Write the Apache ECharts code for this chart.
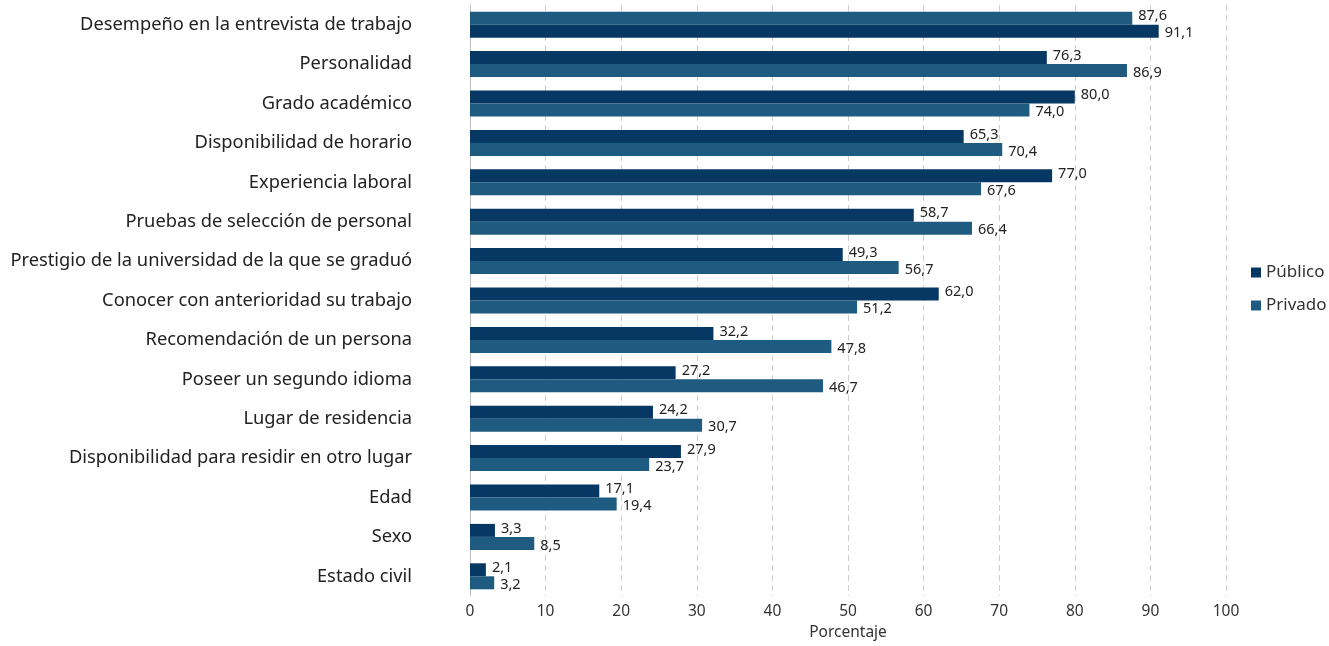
<!DOCTYPE html>
<html><head><meta charset="utf-8">
<script src="https://cdn.jsdelivr.net/npm/echarts@6/dist/echarts.min.js"></script>
<style>html,body{margin:0;padding:0;background:#fff}#c{width:1329px;height:646px}</style>
</head><body><div id="c"></div>
<script>
const categories = [
  "Desempeño en la entrevista de trabajo",
  "Personalidad",
  "Grado académico",
  "Disponibilidad de horario",
  "Experiencia laboral",
  "Pruebas de selección de personal",
  "Prestigio de la universidad de la que se graduó",
  "Conocer con anterioridad su trabajo",
  "Recomendación de un persona",
  "Poseer un segundo idioma",
  "Lugar de residencia",
  "Disponibilidad para residir en otro lugar",
  "Edad",
  "Sexo",
  "Estado civil"
];
const publico = [87.6, 76.3, 80.0, 65.3, 77.0, 58.7, 49.3, 62.0, 32.2, 27.2, 24.2, 27.9, 17.1, 3.3, 2.1];
const privado = [91.1, 86.9, 74.0, 70.4, 67.6, 66.4, 56.7, 51.2, 47.8, 46.7, 30.7, 23.7, 19.4, 8.5, 3.2];
// rows where the source picture swaps the two bar colours
const swappedRows = [0];
const xTicks = [0, 10, 20, 30, 40, 50, 60, 70, 80, 90, 100];

const DARK = '#073763', LIGHT = '#1f5a80';
const FONT = 'Noto Sans';
const fmt = v => v.toFixed(1).replace('.', ',');
function mk(vals, alt) {
  return vals.map((v, i) => swappedRows.includes(i) ? {value: v, itemStyle: {color: alt}} : v);
}
const chart = echarts.init(document.getElementById('c'), null, {renderer: 'canvas'});
chart.setOption({
  animation: false,
  textStyle: {fontFamily: FONT},
  grid: {left: 470, right: 103, top: 5, bottom: 46, containLabel: false},
  legend: {
    orient: 'vertical', left: 1246, top: 259, itemWidth: 10, itemHeight: 10, itemGap: 16,
    icon: 'rect',
    textStyle: {fontSize: 17, color: '#333', fontFamily: FONT},
    data: ['Público', 'Privado']
  },
  xAxis: {
    type: 'value', min: xTicks[0], max: xTicks[xTicks.length - 1], interval: 10,
    name: 'Porcentaje', nameLocation: 'middle', nameGap: 29,
    nameTextStyle: {fontSize: 15.5, color: '#333', fontFamily: FONT},
    axisLabel: {fontSize: 15.5, color: '#333', margin: 8, fontFamily: FONT},
    axisLine: {show: false}, axisTick: {show: false},
    splitLine: {show: true, lineStyle: {color: '#d0d0d0', type: [6, 4], width: 1}}
  },
  yAxis: {
    type: 'category', data: categories, inverse: true,
    axisLabel: {fontSize: 18.3, color: '#222', margin: 58, fontFamily: FONT},
    axisLine: {show: true, lineStyle: {color: '#bfbfbf', width: 1}},
    axisTick: {show: false}
  },
  series: [
    {
      name: 'Público', type: 'bar', data: mk(publico, LIGHT), barWidth: 13, barGap: '0%',
      itemStyle: {color: DARK},
      label: {show: true, position: 'right', distance: 6, fontSize: 14.5, color: '#222', fontFamily: FONT, offset: [0, -2],
        formatter: p => fmt(p.value)}
    },
    {
      name: 'Privado', type: 'bar', data: mk(privado, DARK), barWidth: 13, barGap: '0%',
      itemStyle: {color: LIGHT},
      label: {show: true, position: 'right', distance: 6, fontSize: 14.5, color: '#222', fontFamily: FONT, offset: [0, 2],
        formatter: p => fmt(p.value)}
    }
  ]
});
</script></body></html>
